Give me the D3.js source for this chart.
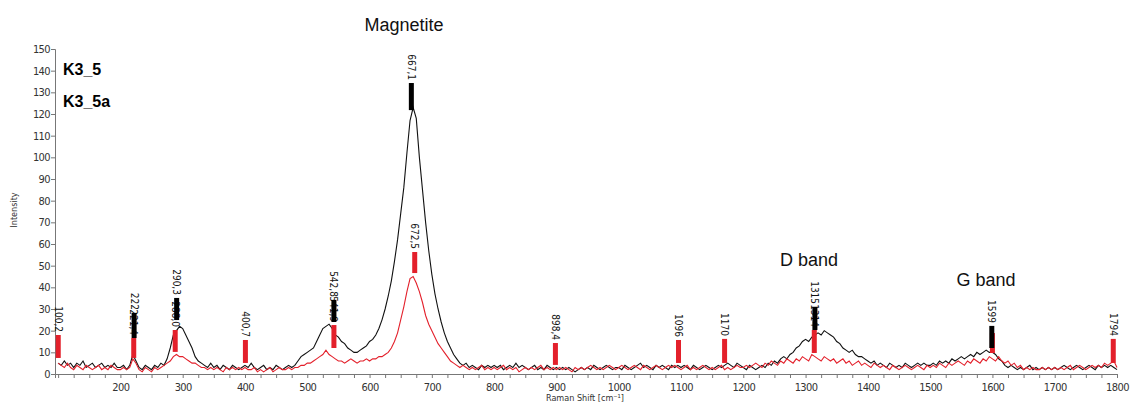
<!DOCTYPE html>
<html lang="en">
<head>
  <meta charset="utf-8">
  <title>Raman spectrum K3_5 / K3_5a</title>
  <script src="https://d3js.org/d3.v7.min.js"></script>
  <style>
    body { margin: 0; background: #fff; }
    svg { display: block; }
    .tick text { font-family: Tahoma, "DejaVu Sans Condensed", sans-serif; font-size: 11px; fill: #333; letter-spacing: -0.6px; }
    .pk { font-family: "Liberation Sans Narrow", "DejaVu Sans Condensed", sans-serif; font-size: 10px; fill: #111; }
  </style>
</head>
<body>
<script>
// Raman shift grid, cm-1 (every 5 from 100 to 1800)
var shift = d3.range(100, 1801, 5);

// K3_5 (black)
var k35 = [
  5,4,6,4,5,3,5,4,6,3,4,5,3,4,5,3,4,3,5,3,
  3,4,2,4,9,6,3,2,4,3,2,4,3,5,4,7,12,18,20,22,
  21,18,15,12,8,6,5,4,3,5,3,4,2,4,3,2,4,3,2,3,
  4,3,5,3,2,3,4,2,3,2,4,3,2,3,4,3,4,6,8,9,
  10,11,12,15,18,21,22,23,21,18,17,15,14,12,11,10,10,11,12,13,
  15,16,18,21,25,30,36,43,52,62,74,86,102,117,123,118,100,85,70,57,
  46,37,30,24,19,15,12,9,7,5,4,5,3,4,3,2,4,3,4,3,
  4,3,4,2,3,4,3,5,3,4,3,2,3,4,2,3,2,4,3,2,
  3,2,3,2,3,2,1,2,3,2,3,2,4,3,2,3,4,3,2,3,
  3,2,4,3,2,3,4,5,3,4,3,2,4,3,4,3,2,4,3,4,
  3,4,3,2,4,3,2,3,4,3,2,3,4,3,4,5,4,3,5,4,
  3,2,4,3,2,3,4,3,5,4,6,5,7,8,7,9,10,12,13,15,
  16,15,17,18,19,18,20,19,18,17,15,14,12,11,10,11,9,8,8,7,
  6,5,6,4,5,4,3,5,4,3,4,3,5,4,3,4,5,4,5,4,
  4,5,4,6,5,6,5,7,6,7,8,7,8,9,8,10,9,10,11,10,
  10,9,7,6,4,3,4,3,2,3,2,3,4,2,3,2,3,2,3,2,
  3,2,3,4,3,2,3,4,3,2,3,4,3,2,4,3,4,3,4,3,2
];

// K3_5a (red)
var k35a = [
  5,4,3,5,3,2,4,3,2,4,3,2,3,4,2,3,2,4,3,2,
  2,3,2,3,7,5,2,1,3,2,1,3,2,3,4,5,6,8,9,8,
  8,7,6,5,5,4,3,3,2,3,2,3,2,1,3,2,3,2,3,2,
  3,2,2,3,1,2,1,2,3,1,2,3,2,2,3,2,3,3,4,4,
  5,5,6,7,8,9,11,9,8,7,6,6,5,6,7,6,5,6,6,7,
  6,7,7,8,8,9,10,12,15,19,25,31,38,44,45,42,38,33,27,23,
  20,17,14,12,10,8,6,5,4,3,4,3,2,3,2,3,4,2,3,2,
  3,2,3,4,2,3,2,3,1,2,3,2,3,2,3,4,2,3,2,3,
  2,3,2,3,2,1,3,2,3,2,3,4,3,2,3,2,3,4,3,2,
  3,4,3,2,3,4,3,2,4,3,2,3,4,3,2,3,4,3,4,3,
  2,3,4,2,3,2,3,4,3,2,3,2,3,4,2,3,2,3,4,3,
  3,4,3,4,5,4,3,5,4,6,5,4,6,5,7,6,5,7,6,8,
  7,6,9,8,7,6,8,7,6,7,5,6,7,5,6,4,5,6,4,5,
  4,3,5,4,3,4,3,2,4,3,2,3,4,3,2,3,4,3,2,4,
  3,4,3,5,4,3,5,4,5,6,5,4,6,5,7,6,5,7,6,8,
  7,6,8,6,5,6,4,5,3,4,2,3,2,3,2,2,3,2,3,2,
  3,2,3,2,3,4,2,3,4,3,2,3,4,3,4,3,5,4,5,6,3
];

// peak markers: position, label, bar from / to (intensity)
var redPeaks  = [100.2, 221.4, 288.0, 400.7, 542.8, 672.5, 898.4, 1096, 1170, 1314, 1600, 1794];
var redLabels = ["100,2", "221,4", "288,0", "400,7", "541,9", "672,5", "898,4", "1096", "1170", "1314", "", "1794"];
var redLo     = [7.4, 7.4, 10.2, 5.1, 12, 46.6, 4.2, 5.1, 5.1, 9.7, 9.7, 5.1];
var redHi     = [18, 16.6, 20.3, 15.7, 22.6, 56.3, 14.3, 15.7, 16.2, 20.3, 18.9, 16.2];

var blackPeaks  = [222, 290.3, 542.8, 667.1, 1315, 1599];
var blackLabels = ["222", "290,3", "542,8", "667,1", "1315", "1599"];
var blackLo     = [16.6, 24.9, 24, 121.8, 20.3, 12];
var blackHi     = [28.2, 35.1, 34.2, 134.3, 30.9, 22.2];

var yTicks = d3.range(0, 151, 10);
var xTicks = d3.range(200, 1801, 100);

var W = 1133, H = 404;
var svg = d3.select("body").append("svg").attr("width", W).attr("height", H);

var x = d3.scaleLinear().domain([95, 1800]).range([55, 1117]);
var y = d3.scaleLinear().domain([0, 150]).range([374, 49]);

// axes
var xAxis = svg.append("g").attr("transform", "translate(0,374)")
  .call(d3.axisBottom(x).tickValues(d3.range(100, 1801, 25))
    .tickSize(4).tickFormat(function(d) { return xTicks.indexOf(d) >= 0 ? d : ""; }));
var yAxis = svg.append("g").attr("transform", "translate(55,0)")
  .call(d3.axisLeft(y).tickValues(yTicks).tickSize(4));
[xAxis, yAxis].forEach(function(g) {
  g.select(".domain").attr("stroke", "#777");
  g.selectAll(".tick line").attr("stroke", "#777");
});
xAxis.selectAll(".tick text").attr("dy", "0.95em");
yAxis.selectAll(".tick text").attr("x", -5);

svg.append("text").attr("x", 585).attr("y", 401).attr("text-anchor", "middle")
  .style("font-family", "Tahoma, 'DejaVu Sans Condensed', sans-serif").style("font-size", "9px").style("fill", "#333")
  .text("Raman Shift [cm\u207B\u00B9]");
svg.append("text").attr("transform", "translate(17,210) rotate(-90)").attr("text-anchor", "middle")
  .style("font-family", "Tahoma, 'DejaVu Sans Condensed', sans-serif").style("font-size", "9px").style("fill", "#333")
  .text("Intensity");

// spectra
var line = d3.line().x(function(d) { return x(d[0]); }).y(function(d) { return y(d[1]); });
svg.append("path").datum(d3.zip(shift, k35)).attr("d", line)
  .attr("fill", "none").attr("stroke", "#111").attr("stroke-width", 1.1);
svg.append("path").datum(d3.zip(shift, k35a)).attr("d", line)
  .attr("fill", "none").attr("stroke", "#e3202b").attr("stroke-width", 1.1);

// peak markers (red first, black on top); labels read top to bottom
function markers(pos, labels, lo, hi, color) {
  var g = svg.append("g");
  pos.forEach(function(p, i) {
    g.append("rect").attr("x", x(p) - 2.5).attr("width", 5)
      .attr("y", y(hi[i])).attr("height", y(lo[i]) - y(hi[i])).attr("fill", color);
    if (labels[i]) {
      g.append("text").attr("class", "pk").attr("text-anchor", "end")
        .attr("transform", "translate(" + (x(p) - 3.5) + "," + (y(hi[i]) - 3) + ") rotate(90)")
        .text(labels[i]);
    }
  });
}
markers(redPeaks, redLabels, redLo, redHi, "#e3202b");
markers(blackPeaks, blackLabels, blackLo, blackHi, "#000");

// annotations
svg.append("text").attr("x", 63).attr("y", 75)
  .style("font-family", "Arial, 'Liberation Sans', sans-serif").style("font-weight", "bold").style("font-size", "16px")
  .text("K3_5");
svg.append("text").attr("x", 63).attr("y", 107)
  .style("font-family", "Arial, 'Liberation Sans', sans-serif").style("font-weight", "bold").style("font-size", "16px")
  .text("K3_5a");
[["Magnetite", 404, 31], ["D band", 809, 266], ["G band", 986, 286]].forEach(function(t) {
  svg.append("text").attr("x", t[1]).attr("y", t[2]).attr("text-anchor", "middle")
    .style("font-family", "Arial, 'Liberation Sans', sans-serif").style("font-size", "18px").style("fill", "#111")
    .text(t[0]);
});
</script>
</body>
</html>
